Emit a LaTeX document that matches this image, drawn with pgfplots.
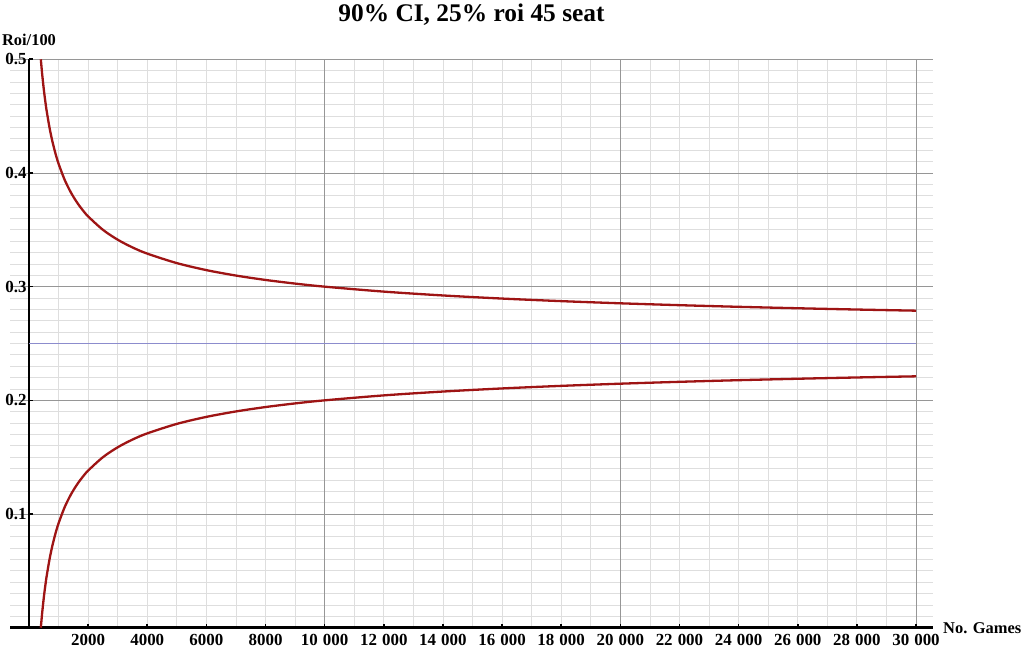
\documentclass[border=0pt]{standalone}
\usepackage{fontspec}
\setmainfont{Liberation Serif}
\usepackage{pgfplots}
\pgfplotsset{compat=1.18}
\definecolor{curvered}{RGB}{158,20,20}
\definecolor{refblue}{RGB}{140,140,205}
\definecolor{majgrid}{RGB}{150,150,150}
\definecolor{mingrid}{RGB}{222,222,222}
\newcommand{\ts}{\hspace{0.3em}}
\begin{document}
\begin{tikzpicture}
\useasboundingbox (-10bp,-24.3bp) rectangle (1012bp,627.7bp);
\begin{axis}[
  scale only axis,
  width=923bp, height=568.4bp,
  xmin=-643, xmax=30575,
  ymin=0, ymax=0.5,
  axis lines=middle,
  axis line style={-, line width=2.8bp, black},
  xtick={2000,4000,...,30000},
  xticklabels={2000,4000,6000,8000,10\ts000,12\ts000,14\ts000,16\ts000,18\ts000,20\ts000,22\ts000,24\ts000,26\ts000,28\ts000,30\ts000},
  ytick={0.1,0.2,0.3,0.4,0.5},
  yticklabels={0.1,0.2,0.3,0.4,0.5},
  minor xtick={1000,2000,...,30000},
  minor ytick={0.01,0.02,0.03,0.04,0.05,0.06,0.07,0.08,0.09,0.11,0.12,0.13,0.14,0.15,0.16,0.17,0.18,0.19,0.21,0.22,0.23,0.24,0.25,0.26,0.27,0.28,0.29,0.31,0.32,0.33,0.34,0.35,0.36,0.37,0.38,0.39,0.41,0.42,0.43,0.44,0.45,0.46,0.47,0.48,0.49},
  xminorgrids=true, yminorgrids=true,
  xmajorgrids=false, ymajorgrids=true,
  extra x ticks={10000,20000,30000},
  extra x tick labels={},
  extra x tick style={grid=major},
  major grid style={majgrid, line width=0.9bp},
  minor grid style={mingrid, line width=0.8bp},
  minor tick length=0pt,
  major tick length=4bp,
  tick align=inside,
  tick style={black, line width=1.6bp},
  tick label style={font=\bfseries\fontsize{17}{17}\selectfont},
  xticklabel style={inner sep=1bp, yshift=-5bp},
  yticklabel style={xshift=1bp},
  xlabel={No. Games},
  ylabel={Roi/100},
  xlabel style={at={(axis description cs:1,0)}, anchor=west, inner sep=0pt, xshift=10bp, font=\bfseries\fontsize{16.5}{16.5}\selectfont},
  ylabel style={at={(axis description cs:0.0206,1)}, anchor=south, inner sep=0pt, yshift=13bp, rotate=0, font=\bfseries\fontsize{16.5}{16.5}\selectfont},
  title={90\% CI, 25\% roi 45 seat},
  title style={at={(axis description cs:0.5,1)}, anchor=base, inner sep=0pt, yshift=32bp, font=\bfseries\fontsize{25.5}{25.5}\selectfont},
  clip=true,
]
\addplot[refblue, line width=1.4bp] coordinates {(0,0.25) (30000,0.25)};
\addplot[curvered, line width=2.3bp, smooth] coordinates {
(400,0.5) (410,0.49694) (420,0.49398) (450,0.48570) (500,0.47361) (550,0.46320) (600,0.45412)
(700,0.43898) (800,0.42678) (900,0.41667) (1000,0.40811) (1200,0.39434) (1400,0.38363)
(1600,0.375) (1800,0.36785) (2000,0.36180) (2500,0.35) (3000,0.34129) (3500,0.33452)
(4000,0.32906) (5000,0.32071) (6000,0.31455) (7000,0.30976) (8000,0.30590) (9000,0.30270)
(10000,0.3) (12000,0.29564) (14000,0.29226) (16000,0.28953) (18000,0.28727) (20000,0.28536)
(22000,0.28371) (24000,0.28227) (26000,0.28101) (28000,0.27988) (30000,0.27887)
};
\addplot[curvered, line width=2.3bp, smooth] coordinates {
(400,0) (410,0.00306) (420,0.00602) (450,0.01430) (500,0.02639) (550,0.03680) (600,0.04588)
(700,0.06102) (800,0.07322) (900,0.08333) (1000,0.09189) (1200,0.10566) (1400,0.11637)
(1600,0.125) (1800,0.13215) (2000,0.13820) (2500,0.15) (3000,0.15871) (3500,0.16548)
(4000,0.17094) (5000,0.17929) (6000,0.18545) (7000,0.19024) (8000,0.19410) (9000,0.19730)
(10000,0.2) (12000,0.20436) (14000,0.20774) (16000,0.21047) (18000,0.21273) (20000,0.21464)
(22000,0.21629) (24000,0.21773) (26000,0.21899) (28000,0.22012) (30000,0.22113)
};
\end{axis}
\end{tikzpicture}
\end{document}
